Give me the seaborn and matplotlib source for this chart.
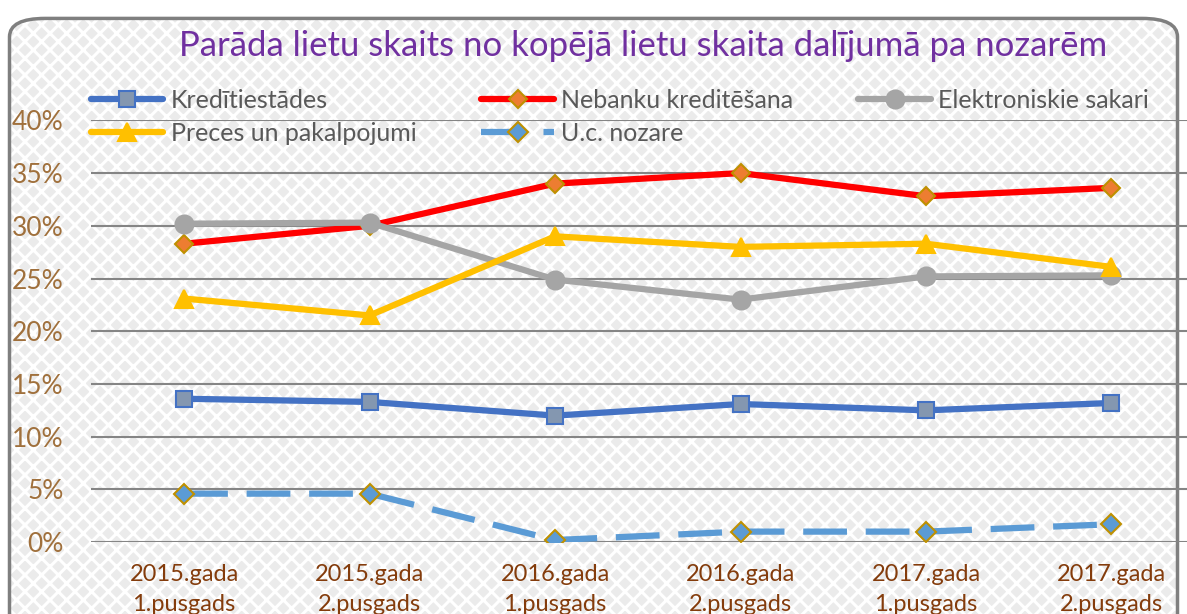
import numpy as np
import pandas as pd
import matplotlib
matplotlib.use("Agg")
import matplotlib.pyplot as plt
from matplotlib.patches import FancyBboxPatch
import seaborn as sns

# dati (daļa no kopējā lietu skaita, %)
periodi = ["2015.gada\n1.pusgads", "2015.gada\n2.pusgads", "2016.gada\n1.pusgads",
           "2016.gada\n2.pusgads", "2017.gada\n1.pusgads", "2017.gada\n2.pusgads"]
kreditiestades = [13.6, 13.3, 12.0, 13.1, 12.5, 13.2]
nebanku = [28.3, 30.0, 34.0, 35.0, 32.8, 33.6]
elektroniskie = [30.2, 30.3, 24.9, 23.0, 25.2, 25.3]
preces = [23.1, 21.5, 29.0, 28.0, 28.3, 26.1]
uc_nozare = [4.6, 4.6, 0.2, 1.0, 1.0, 1.7]

sns.set_theme(style="white")
plt.rcParams["font.family"] = ["Lato", "DejaVu Sans"]
plt.rcParams["hatch.linewidth"] = 2.2

fig = plt.figure(figsize=(11.87, 6.14), dpi=100)
fig.patch.set_facecolor("white")

# fons ar rakstu un noapaļotu rāmi
fons = FancyBboxPatch((0.008, -0.05), 0.984, 1.02, boxstyle="round,pad=0,rounding_size=0.03",
                      transform=fig.transFigure, facecolor="#ebebeb", edgecolor="white",
                      linewidth=0, hatch="xx", zorder=-11)
ramis = FancyBboxPatch((0.008, -0.05), 0.984, 1.02, boxstyle="round,pad=0,rounding_size=0.03",
                       transform=fig.transFigure, facecolor="none", edgecolor="#7f7f7f",
                       linewidth=2.5, zorder=-10)
fig.patches.append(fons)
fig.patches.append(ramis)

ax = fig.add_axes([0.077, 0.117, 0.925, 0.687])
ax.set_facecolor("none")

x = np.arange(len(periodi))
stili = [
    ("Kredītiestādes", kreditiestades, dict(color="#4472C4", marker="s", markersize=11,
                                            markerfacecolor="#8497B0", markeredgecolor="#4472C4")),
    ("Nebanku kreditēšana", nebanku, dict(color="#FF0000", marker="D", markersize=9,
                                          markerfacecolor="#ED7D31", markeredgecolor="#BF9000")),
    ("Elektroniskie sakari", elektroniskie, dict(color="#A5A5A5", marker="o", markersize=13,
                                                 markerfacecolor="#A5A5A5", markeredgecolor="#A5A5A5")),
    ("Preces un pakalpojumi", preces, dict(color="#FFC000", marker="^", markersize=13,
                                           markerfacecolor="#FFC000", markeredgecolor="#FFC000")),
    ("U.c. nozare", uc_nozare, dict(color="#5B9BD5", marker="D", markersize=10,
                                    markerfacecolor="#5B9BD5", markeredgecolor="#BF9000",
                                    dashes=(7, 3))),
]

for nosaukums, vertibas, st in stili:
    dashes = st.pop("dashes", None)
    sns.lineplot(x=x, y=np.array(vertibas) / 100, ax=ax, label=nosaukums, linewidth=4.5,
                 markeredgewidth=1.5, **st)
    if dashes is not None:
        ax.lines[-1].set_dashes(dashes)

ax.set_xlim(-0.5, 5.42)
ax.set_ylim(0, 0.40)
ax.set_yticks(np.arange(0, 0.41, 0.05))
ax.yaxis.set_major_formatter(matplotlib.ticker.PercentFormatter(1.0, decimals=0))
ax.set_xticks(x)
ax.set_xticklabels(periodi, linespacing=1.5)
ax.tick_params(axis="y", labelsize=19, labelcolor="#A0703C", length=0, pad=20)
ax.tick_params(axis="x", labelsize=17, labelcolor="#843C0C", length=0, pad=16)
ax.grid(axis="y", color="#858585", linewidth=1.5)
ax.set_axisbelow(True)
for s in ax.spines.values():
    s.set_visible(False)
ax.set_xlabel("")
ax.set_ylabel("")

h, l = ax.get_legend_handles_labels()
order = [0, 3, 1, 4, 2]
leg = fig.legend([h[i] for i in order], [l[i] for i in order], ncol=3,
                 loc="upper left", bbox_to_anchor=(0.068, 0.872), frameon=False,
                 fontsize=18, handlelength=2.9, columnspacing=2.6, labelspacing=0.42,
                 handletextpad=0.3, borderaxespad=0)
for t in leg.get_texts():
    t.set_color("#595959")
if ax.get_legend():
    ax.get_legend().remove()

fig.text(0.542, 0.925, "Parāda lietu skaits no kopējā lietu skaita dalījumā pa nozarēm",
         ha="center", va="center", fontsize=25, color="#7030A0")

fig.savefig("out.png", dpi=100)
